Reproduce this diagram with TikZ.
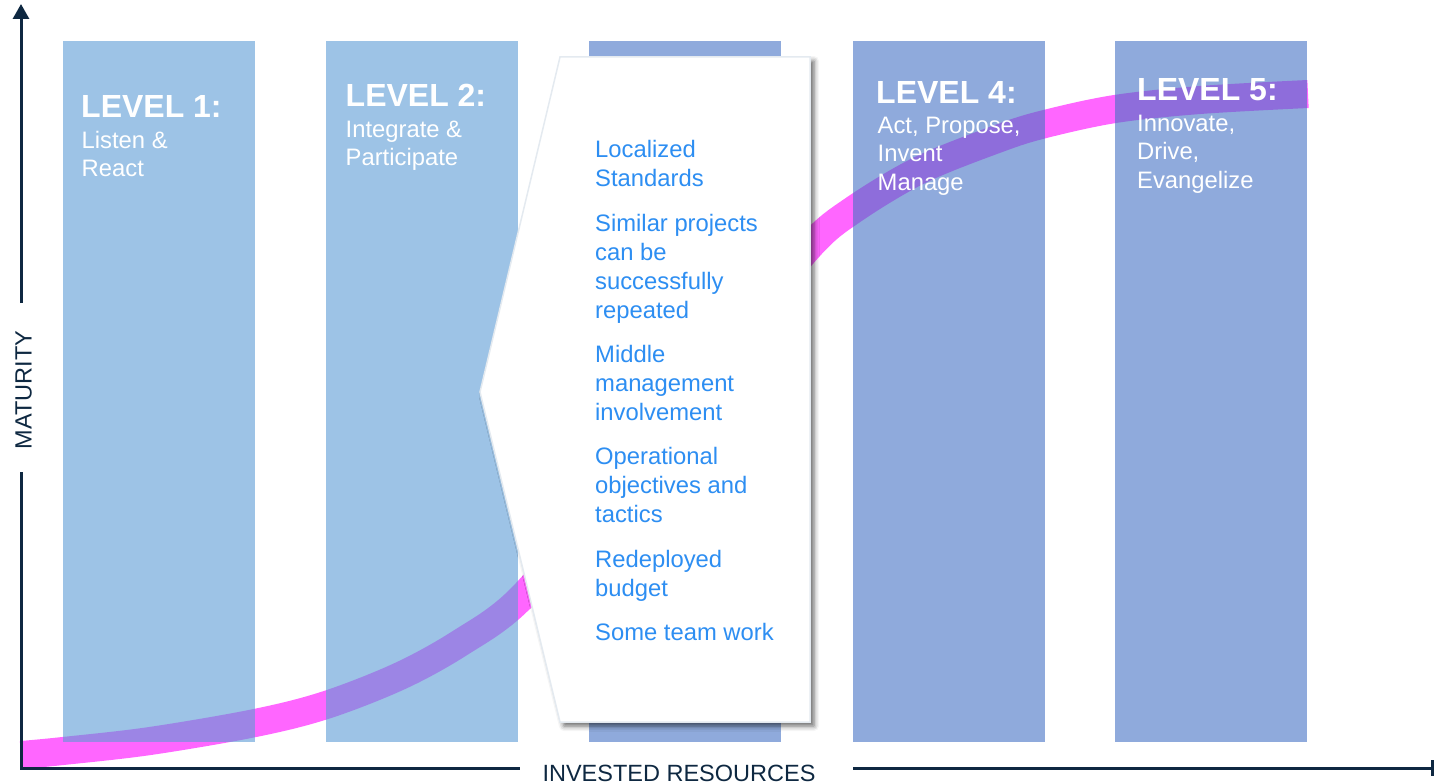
\documentclass[tikz,border=0pt]{standalone}
\usepackage{fontspec}
\setmainfont{Liberation Sans}
\usetikzlibrary{arrows.meta,shadows.blur}
\definecolor{navy}{HTML}{0E2841}
\definecolor{colA}{HTML}{5B9BD5}
\definecolor{colB}{HTML}{4472C4}
\definecolor{curvecol}{HTML}{FF66FF}
\definecolor{calltext}{RGB}{45,142,242}
\definecolor{callborder}{HTML}{E4EAF0}
\begin{document}
\begin{tikzpicture}[x=1pt,y=-1pt,
  colbox/.style={fill=#1, fill opacity=0.6, draw=none, inner sep=0pt, outer sep=0pt,
    minimum width=192pt, minimum height=701pt, anchor=north west},
  lvltitle/.style={text=white, font=\fontsize{32}{36}\selectfont\bfseries, anchor=base west, inner sep=0pt},
  lvlsub/.style={text=white, font=\fontsize{23.8}{28}\selectfont, anchor=base west, inner sep=0pt},
  item/.style={text=calltext, font=\fontsize{23.8}{29}\selectfont, anchor=base west, inner sep=0pt},
  axisline/.style={draw=navy, line width=3pt},
  axlabel/.style={text=navy, font=\fontsize{23.5}{28}\selectfont, inner sep=0pt, anchor=base},
  sband/.style={draw=curvecol, line width=28pt}
]
\useasboundingbox (0,0) rectangle (1435,784);

% S-curve
\draw[sband] plot[smooth, tension=0.55] coordinates {
  (21,755) (63,751) (150,741) (255,723) (326,705) (400,676) (460,643)
  (519,600) (600,505) (668,418) (740,332) (811,245) (853,210) (920,170)
  (1000,138) (1045,124) (1115,109) (1200,100) (1308,94)};

% columns
\node[colbox=colA] (col1) at (63,41) {};
\node[colbox=colA] (col2) at (326,41) {};
\node[colbox=colB] (col3) at (589,41) {};
\node[colbox=colB] (col4) at (853,41) {};
\node[colbox=colB] (col5) at (1115,41) {};

% level texts
\node[lvltitle] (t1) at (81,117.7) {LEVEL 1:};
\node[lvlsub] (s1a) at (81.5,148.3) {Listen \&};
\node[lvlsub] (s1b) at (81.5,176.5) {React};

\node[lvltitle] (t2) at (345.5,106.7) {LEVEL 2:};
\node[lvlsub] (s2a) at (345.5,137.3) {Integrate \&};
\node[lvlsub] (s2b) at (345.5,165.8) {Participate};

\node[lvltitle] (t4) at (876,103.3) {LEVEL 4:};
\node[lvlsub] (s4a) at (877.5,133.3) {Act, Propose,};
\node[lvlsub] (s4b) at (877.5,161.7) {Invent};
\node[lvlsub] (s4c) at (877.5,190) {Manage};

\node[lvltitle] (t5) at (1137,100.7) {LEVEL 5:};
\node[lvlsub] (s5a) at (1137,131) {Innovate,};
\node[lvlsub] (s5b) at (1137,159.5) {Drive,};
\node[lvlsub] (s5c) at (1137,188) {Evangelize};

% callout
\path[fill=white, draw=callborder, line width=1.5pt,
  blur shadow={shadow xshift=4pt, shadow yshift=-4pt, shadow blur radius=5pt, shadow opacity=60}]
  (560,57) -- (810,57) -- (810,722) -- (560,722) -- (480,392) -- cycle;

\foreach \txt/\yy [count=\i] in {Localized/157, Standards/186,
  Similar projects/231, can be/260, successfully/289, repeated/318,
  Middle/362, management/391, involvement/420,
  Operational/464, objectives and/493, tactics/522,
  Redeployed/567, budget/596, Some team work/640}
  \node[item] (item\i) at (595,\yy) {\txt};

% axes
\coordinate (origin) at (21,768);
\coordinate (ytop) at (21,4);
\coordinate (ygapA) at (21,303);
\coordinate (ygapB) at (21,472);
\coordinate (xgapA) at (520,768);
\coordinate (xgapB) at (853,768);
\coordinate (xend) at (1434,768);
\draw[axisline] (ygapB) -- (origin) -- (xgapA);
\draw[axisline, -{Triangle[width=16pt,length=15pt]}] (ygapA) -- (ytop);
\draw[axisline, -{Bar[width=16pt]}] (xgapB) -- (xend);

\node[axlabel, rotate=90] (ylab) at (31.5,390) {MATURITY};
\node[axlabel] (xlab) at (679,781) {INVESTED RESOURCES};
\end{tikzpicture}
\end{document}
